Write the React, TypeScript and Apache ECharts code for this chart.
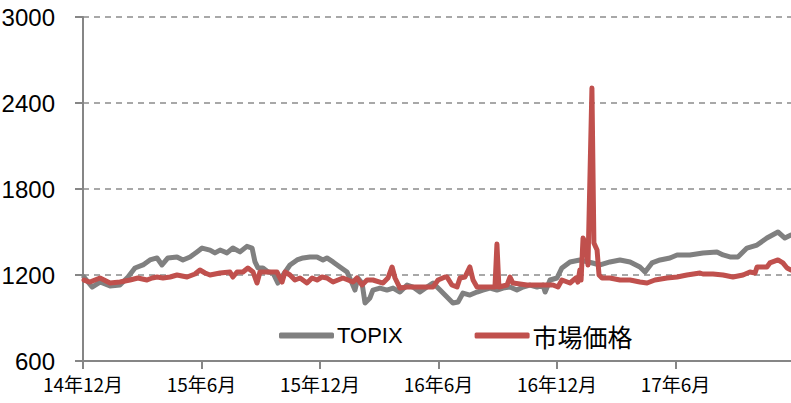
import React, { useEffect, useRef } from "react";
import * as echarts from "echarts";

// x = months since Dec 2014
const xTickLabels = ["14年12月", "15年6月", "15年12月", "16年6月", "16年12月", "17年6月"];
const yTicks = [600, 1200, 1800, 2400, 3000];
const seriesNames = ["TOPIX", "市場価格"];

const topixData: [number, number][] = [
  [0.05, 1186], [0.46, 1116], [0.86, 1151], [1.37, 1123], [1.87, 1130], [2.28, 1186], [2.63, 1249],
  [3.04, 1270], [3.39, 1305], [3.75, 1319], [4.0, 1270], [4.3, 1319], [4.76, 1326], [5.06, 1305],
  [5.42, 1326], [5.77, 1361], [6.03, 1388], [6.43, 1374], [6.68, 1354], [6.94, 1374], [7.29, 1354],
  [7.59, 1388], [7.95, 1361], [8.3, 1400], [8.56, 1388], [8.71, 1291], [8.86, 1249], [9.11, 1249],
  [9.37, 1221], [9.62, 1214], [9.87, 1144], [10.13, 1200], [10.48, 1270], [10.84, 1305], [11.14, 1319],
  [11.49, 1326], [11.85, 1326], [12.15, 1305], [12.35, 1319], [12.66, 1291], [13.01, 1256], [13.37, 1221],
  [13.62, 1144], [13.77, 1095], [13.92, 1179], [14.13, 1144], [14.28, 1005], [14.53, 1040], [14.68, 1095],
  [15.04, 1109], [15.39, 1095], [15.7, 1109], [16.05, 1081], [16.41, 1130], [16.71, 1116], [17.06, 1081],
  [17.42, 1116], [17.72, 1144], [18.08, 1095], [18.33, 1060], [18.73, 1005], [18.99, 1012], [19.24, 1074],
  [19.59, 1060], [19.95, 1081], [20.25, 1095], [20.61, 1109], [20.96, 1095], [21.27, 1109], [21.62, 1116],
  [21.97, 1095], [22.28, 1116], [22.63, 1130], [22.99, 1116], [23.29, 1130], [23.4, 1081], [23.65, 1165],
  [24.0, 1179], [24.25, 1249], [24.66, 1291], [25.16, 1305], [25.8, 1284], [26.18, 1270], [26.68, 1291],
  [27.19, 1305], [27.7, 1291], [28.2, 1256], [28.46, 1221], [28.81, 1284], [29.22, 1305], [29.72, 1319],
  [30.08, 1340], [30.73, 1340], [31.39, 1354], [32.1, 1361], [32.41, 1340], [32.76, 1326], [33.16, 1326],
  [33.62, 1388], [34.13, 1409], [34.63, 1458], [35.19, 1500], [35.54, 1458], [35.85, 1479],
];

const marketData: [number, number][] = [
  [0.05, 1165], [0.35, 1151], [0.86, 1179], [1.37, 1144], [1.87, 1151], [2.38, 1165], [2.78, 1179],
  [3.24, 1165], [3.5, 1179], [3.75, 1186], [4.05, 1179], [4.41, 1186], [4.76, 1200], [5.27, 1186],
  [5.67, 1207], [5.92, 1235], [6.18, 1214], [6.43, 1200], [6.94, 1214], [7.44, 1221], [7.59, 1186],
  [7.8, 1221], [8.1, 1221], [8.35, 1249], [8.61, 1221], [8.81, 1144], [8.96, 1221], [9.32, 1221],
  [9.82, 1221], [10.08, 1151], [10.23, 1221], [10.48, 1200], [10.73, 1165], [10.99, 1179], [11.34, 1144],
  [11.6, 1179], [11.85, 1165], [12.1, 1186], [12.35, 1179], [12.66, 1151], [12.91, 1165], [13.16, 1179],
  [13.42, 1165], [13.67, 1151], [13.87, 1179], [14.13, 1130], [14.38, 1165], [14.68, 1165], [15.19, 1144],
  [15.44, 1179], [15.65, 1256], [15.8, 1179], [16.05, 1109], [16.41, 1116], [17.06, 1116], [17.72, 1116],
  [17.98, 1165], [18.33, 1186], [18.43, 1186], [18.68, 1130], [18.94, 1116], [19.09, 1179], [19.34, 1186],
  [19.59, 1256], [19.75, 1165], [19.95, 1116], [20.5, 1116], [20.86, 1116], [20.96, 1416], [21.06, 1116],
  [21.47, 1130], [21.62, 1186], [21.77, 1144], [22.48, 1130], [23.29, 1130], [23.8, 1130], [24.05, 1116],
  [24.25, 1165], [24.66, 1144], [24.96, 1179], [25.06, 1151], [25.16, 1235], [25.22, 1165], [25.32, 1458],
  [25.47, 1409], [25.57, 1270], [25.77, 2505], [25.87, 1423], [26.03, 1374], [26.13, 1200], [26.28, 1179],
  [26.68, 1179], [27.19, 1165], [27.7, 1165], [28.2, 1151], [28.56, 1144], [28.96, 1165], [29.57, 1179],
  [30.08, 1186], [30.58, 1200], [31.24, 1214], [31.39, 1207], [31.9, 1207], [32.41, 1200], [32.91, 1186],
  [33.42, 1200], [33.77, 1221], [34.03, 1214], [34.13, 1256], [34.63, 1256], [34.78, 1284], [35.19, 1305],
  [35.44, 1284], [35.65, 1249], [35.85, 1235],
];

const FONT = "'Liberation Sans', 'Noto Sans CJK JP', sans-serif";

export default function App() {
  const ref = useRef<HTMLDivElement>(null);
  useEffect(() => {
    if (!ref.current) return;
    const chart = echarts.init(ref.current, null, { renderer: "svg" });
    chart.setOption({
      animation: false,
      backgroundColor: "#ffffff",
      textStyle: { fontFamily: FONT },
      grid: { left: 83, right: 0, top: 17, bottom: 42, containLabel: false, outerBoundsMode: "none" },
      legend: {
        left: 274,
        top: 318,
        itemWidth: 55,
        itemHeight: 6,
        itemGap: 72,
        icon: "roundRect",
        formatter: (name: string) => (name === seriesNames[0] ? `{a|${name}}` : `{b|${name}}`),
        textStyle: {
          fontSize: 22,
          color: "#000",
          fontFamily: FONT,
          padding: [0, 0, 0, -2],
          rich: {
            a: { fontSize: 22, color: "#000", fontFamily: FONT },
            b: { fontSize: 25, color: "#000", fontFamily: "'Noto Sans CJK JP', sans-serif" },
          },
        },
        data: seriesNames,
      },
      xAxis: {
        type: "value",
        min: 0,
        max: 35.85,
        interval: 6,
        axisLine: { show: true, lineStyle: { color: "#868686", width: 2 } },
        axisTick: { show: true, length: 8, lineStyle: { color: "#868686", width: 2 } },
        splitLine: { show: false },
        axisLabel: {
          showMaxLabel: false,
          margin: 13,
          fontSize: 19,
          color: "#000",
          fontFamily: "'Noto Sans CJK JP', sans-serif",
          formatter: (v: number) => xTickLabels[Math.round(v / 6)] ?? "",
        },
      },
      yAxis: {
        type: "value",
        min: yTicks[0],
        max: yTicks[yTicks.length - 1],
        interval: 600,
        axisLine: { show: true, lineStyle: { color: "#868686", width: 2 } },
        axisTick: { show: true, length: 8, lineStyle: { color: "#868686", width: 2 } },
        splitLine: { show: true, lineStyle: { color: "#8c8c8c", width: 1.5, type: [6, 5] } },
        axisLabel: {
          fontSize: 24,
          color: "#000",
          margin: 28,
          fontFamily: FONT,
          formatter: (v: number) => String(v),
        },
      },
      series: [
        {
          name: seriesNames[0],
          type: "line",
          data: topixData,
          showSymbol: false,
          symbol: "none",
          color: "#808080",
          lineStyle: { color: "#808080", width: 5, join: "round", cap: "round" },
        },
        {
          name: seriesNames[1],
          type: "line",
          data: marketData,
          showSymbol: false,
          symbol: "none",
          color: "#C0504D",
          lineStyle: { color: "#C0504D", width: 5, join: "round", cap: "round" },
        },
      ],
    });
    return () => chart.dispose();
  }, []);
  return <div ref={ref} style={{ width: 791, height: 403, position: "absolute", left: 0, top: 0 }} />;
}
